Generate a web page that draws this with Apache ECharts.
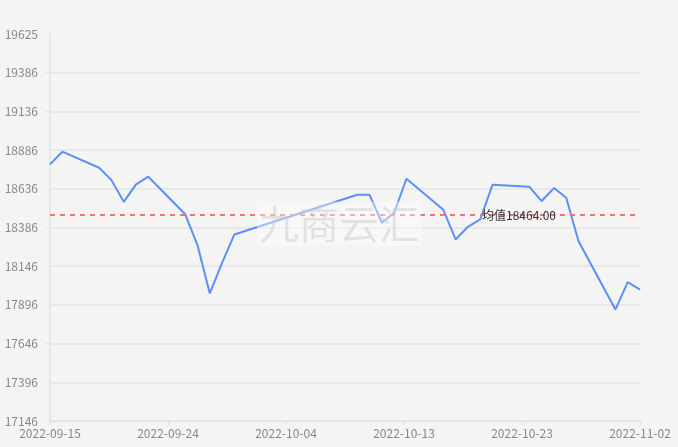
<!DOCTYPE html>
<html>
<head>
<meta charset="utf-8">
<script src="https://cdn.jsdelivr.net/npm/echarts@6/dist/echarts.min.js"></script>
<style>
html,body{margin:0;padding:0;background:#f4f4f4;}
#chart{width:678px;height:447px;}
</style>
</head>
<body>
<div id="chart"></div>
<script>
// ---- data ----
const dates = ['2022-09-15','2022-09-16','2022-09-19','2022-09-20','2022-09-21','2022-09-22','2022-09-23',
  '2022-09-26','2022-09-27','2022-09-28','2022-09-29','2022-09-30',
  '2022-10-10','2022-10-11','2022-10-12','2022-10-13','2022-10-14',
  '2022-10-17','2022-10-18','2022-10-19','2022-10-20','2022-10-21',
  '2022-10-24','2022-10-25','2022-10-26','2022-10-27','2022-10-28',
  '2022-10-31','2022-11-01','2022-11-02'];
const values = [18790,18871,18768,18689,18550,18662,18711,
  18470,18273,17963,18159,18341,
  18595,18595,18416,18480,18698,
  18499,18309,18390,18437,18659,
  18646,18555,18638,18576,18298,
  17860,18036,17987];
const avgValue = 18464;
const xLabels = ['2022-09-15','2022-09-24','2022-10-04','2022-10-13','2022-10-23','2022-11-02'];
const yLabels = ['17146','17396','17646','17896','18146','18386','18636','18886','19136','19386','19625'];
const yMin = 17146, yMax = 19625;
const xStart = '2022-09-15', xEnd = '2022-11-02';
const watermark = '九商云汇';

// ---- build ----
const FONT = 'Noto Sans CJK SC';
const toT = s => Date.UTC(+s.slice(0, 4), +s.slice(5, 7) - 1, +s.slice(8, 10));
const t0 = toT(xStart), t1 = toT(xEnd);
const xTicks = xLabels.map((_, i) => t0 + (t1 - t0) * i / (xLabels.length - 1));
const yTicks = yLabels.map((_, i) => yMin + (yMax - yMin) * i / (yLabels.length - 1));
function nearestIdx(arr, v) {
  let best = 0, bd = Infinity;
  arr.forEach((a, i) => { const d = Math.abs(a - v); if (d < bd) { bd = d; best = i; } });
  return best;
}

const chart = echarts.init(document.getElementById('chart'));
chart.setOption({
  backgroundColor: '#f4f4f4',
  animation: false,
  textStyle: { fontFamily: FONT },
  grid: { left: 50, right: 38, top: 34, bottom: 26, containLabel: false },
  xAxis: {
    type: 'value',
    min: t0, max: t1,
    scale: true,
    axisLine: { show: true, lineStyle: { color: '#e0e0e0', width: 1 } },
    axisTick: { show: true, length: 4, lineStyle: { color: '#e0e0e0' }, customValues: xTicks },
    axisLabel: {
      color: '#888', fontSize: 12, margin: 6, fontFamily: FONT,
      showMinLabel: true, showMaxLabel: true,
      customValues: xTicks,
      formatter: v => xLabels[nearestIdx(xTicks, v)]
    },
    splitLine: { show: false }
  },
  yAxis: {
    type: 'value',
    min: yMin, max: yMax,
    scale: true,
    axisLine: { show: true, lineStyle: { color: '#e6e6e6', width: 2 } },
    axisTick: { show: true, length: 5, lineStyle: { color: '#e6e6e6' }, customValues: yTicks },
    axisLabel: {
      color: '#888', fontSize: 12, margin: 12, fontFamily: FONT,
      customValues: yTicks,
      formatter: v => yLabels[nearestIdx(yTicks, v)]
    },
    splitLine: { show: true, showMaxLine: false, lineStyle: { color: '#e8e8e8', width: 2 } }
  },
  graphic: [{
    type: 'text',
    left: 'center', top: 'middle',
    z: 100,
    style: {
      text: watermark,
      fontSize: 40,
      fontFamily: FONT,
      fill: 'rgba(200,200,200,0.45)',
      backgroundColor: 'rgba(255,255,255,0.4)',
      padding: [2, 2]
    }
  }],
  series: [{
    type: 'line',
    data: dates.map((d, i) => [toT(d), values[i]]),
    showSymbol: false,
    smooth: false,
    lineStyle: { color: '#5b8ff9', width: 2 },
    itemStyle: { color: '#5b8ff9' },
    markLine: {
      silent: true,
      symbol: ['none', 'none'],
      lineStyle: { color: '#f07474', type: [5, 5], width: 2 },
      label: {
        position: 'insideEnd',
        distance: [84, 0],
        color: '#333',
        fontSize: 12,
        fontFamily: FONT,
        formatter: p => '均值' + Number(p.value).toFixed(2)
      },
      data: [{ yAxis: avgValue }]
    }
  }]
});
</script>
</body>
</html>
